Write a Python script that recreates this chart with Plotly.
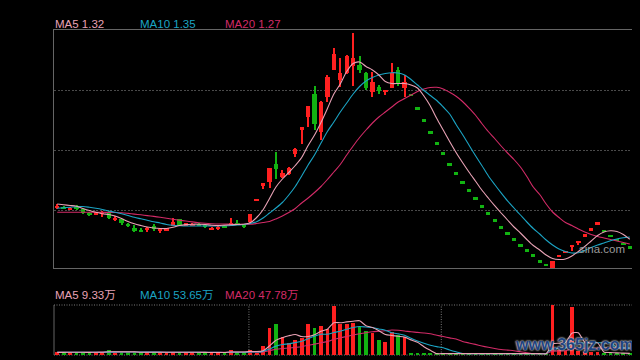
import plotly.graph_objects as go

# ---------------- data ----------------
days = list(range(90))

open_ = [1.650, 1.650, 1.633, 1.653, 1.627, 1.593, 1.584, 1.590, 1.597, 1.527,
         1.533, 1.472, 1.443, 1.415, 1.420, 1.463, 1.413, 1.413, 1.463, 1.527,
         1.474, 1.475, 1.480, 1.470, 1.434, 1.444, 1.454, 1.460, 1.487, 1.466,
         1.497, 1.720, 1.877, 1.903, 2.077, 1.953, 1.980, 2.180, 2.437, 2.553,
         2.780, 2.403, 2.750, 3.020, 2.920, 2.987, 3.060, 3.070, 2.987, 2.803,
         2.853, 2.803, 2.843, 3.020, 2.843, 2.770, 2.637, 2.517, 2.397, 2.287,
         2.187, 2.077, 1.987, 1.897, 1.817, 1.737, 1.657, 1.587, 1.517, 1.447,
         1.387, 1.327, 1.267, 1.217, 1.167, 1.107, 1.070, 1.035, 1.160, 1.200,
         1.260, 1.303, 1.367, 1.427, 1.487, 1.413, 1.360, 1.320, 1.285, 1.247]
high = [1.680, 1.660, 1.655, 1.670, 1.630, 1.600, 1.605, 1.613, 1.610, 1.565,
        1.535, 1.493, 1.470, 1.445, 1.450, 1.485, 1.445, 1.445, 1.537, 1.530,
        1.495, 1.490, 1.490, 1.477, 1.455, 1.465, 1.470, 1.537, 1.520, 1.475,
        1.585, 1.720, 1.877, 2.045, 2.203, 2.017, 2.053, 2.237, 2.437, 2.665,
        2.860, 2.710, 2.970, 3.237, 3.140, 3.170, 3.390, 3.160, 3.003, 3.003,
        2.870, 2.820, 3.087, 3.053, 2.970, 2.770, 2.637, 2.517, 2.397, 2.287,
        2.187, 2.077, 1.987, 1.897, 1.817, 1.737, 1.657, 1.587, 1.517, 1.447,
        1.387, 1.327, 1.267, 1.217, 1.167, 1.107, 1.070, 1.110, 1.160, 1.200,
        1.260, 1.303, 1.367, 1.427, 1.487, 1.413, 1.360, 1.320, 1.285, 1.247]
low = [1.630, 1.630, 1.620, 1.625, 1.580, 1.560, 1.570, 1.547, 1.535, 1.515,
       1.475, 1.447, 1.400, 1.410, 1.400, 1.415, 1.387, 1.410, 1.460, 1.465,
       1.465, 1.465, 1.465, 1.445, 1.420, 1.425, 1.445, 1.457, 1.475, 1.437,
       1.493, 1.720, 1.830, 1.837, 1.930, 1.943, 1.970, 2.147, 2.277, 2.447,
       2.420, 2.320, 2.703, 3.020, 2.853, 2.980, 2.860, 2.987, 2.820, 2.753,
       2.780, 2.770, 2.843, 2.860, 2.753, 2.770, 2.637, 2.517, 2.397, 2.287,
       2.187, 2.077, 1.987, 1.897, 1.817, 1.737, 1.657, 1.587, 1.517, 1.447,
       1.387, 1.327, 1.267, 1.217, 1.167, 1.107, 1.070, 1.035, 1.160, 1.200,
       1.213, 1.270, 1.367, 1.427, 1.487, 1.413, 1.360, 1.320, 1.285, 1.247]
close = [1.655, 1.640, 1.640, 1.627, 1.587, 1.573, 1.590, 1.595, 1.537, 1.537,
         1.493, 1.468, 1.410, 1.411, 1.443, 1.427, 1.433, 1.437, 1.503, 1.470,
         1.480, 1.478, 1.472, 1.447, 1.438, 1.449, 1.451, 1.487, 1.477, 1.461,
         1.580, 1.720, 1.877, 2.043, 2.030, 1.987, 2.037, 2.230, 2.437, 2.660,
         2.483, 2.697, 2.950, 3.180, 2.987, 3.160, 3.140, 3.020, 2.837, 2.903,
         2.813, 2.820, 2.987, 2.887, 2.897, 2.770, 2.637, 2.517, 2.397, 2.287,
         2.187, 2.077, 1.987, 1.897, 1.817, 1.737, 1.657, 1.587, 1.517, 1.447,
         1.387, 1.327, 1.267, 1.217, 1.167, 1.107, 1.070, 1.110, 1.160, 1.200,
         1.260, 1.303, 1.367, 1.427, 1.487, 1.413, 1.360, 1.320, 1.285, 1.247]

ma5 = [1.680, 1.672, 1.665, 1.657, 1.635, 1.615, 1.598, 1.582, 1.575, 1.560,
       1.535, 1.505, 1.482, 1.465, 1.450, 1.440, 1.435, 1.435, 1.447, 1.465,
       1.474, 1.478, 1.478, 1.475, 1.468, 1.465, 1.468, 1.472, 1.475, 1.477,
       1.492, 1.545, 1.623, 1.735, 1.850, 1.930, 1.995, 2.065, 2.145, 2.265,
       2.370, 2.495, 2.635, 2.780, 2.880, 3.005, 3.085, 3.100, 3.055, 3.020,
       2.970, 2.905, 2.885, 2.885, 2.885, 2.870, 2.840, 2.760, 2.660, 2.535,
       2.420, 2.305, 2.195, 2.095, 2.000, 1.910, 1.820, 1.740, 1.663, 1.590,
       1.520, 1.450, 1.390, 1.325, 1.265, 1.220, 1.170, 1.135, 1.125, 1.130,
       1.160, 1.205, 1.255, 1.310, 1.365, 1.400, 1.412, 1.405, 1.375, 1.327]
ma10 = [1.637, 1.643, 1.648, 1.653, 1.655, 1.647, 1.637, 1.625, 1.610, 1.597,
        1.582, 1.565, 1.547, 1.532, 1.517, 1.502, 1.490, 1.475, 1.467, 1.463,
        1.460, 1.460, 1.460, 1.460, 1.460, 1.460, 1.462, 1.465, 1.470, 1.475,
        1.485, 1.503, 1.540, 1.590, 1.640, 1.695, 1.770, 1.855, 1.960, 2.070,
        2.170, 2.290, 2.405, 2.500, 2.600, 2.690, 2.780, 2.855, 2.910, 2.945,
        2.970, 2.985, 2.993, 2.990, 2.970, 2.925, 2.870, 2.815, 2.765, 2.715,
        2.650, 2.580, 2.475, 2.375, 2.270, 2.165, 2.065, 1.963, 1.875, 1.791,
        1.711, 1.640, 1.570, 1.500, 1.435, 1.380, 1.320, 1.270, 1.230, 1.205,
        1.190, 1.193, 1.215, 1.245, 1.270, 1.290, 1.313, 1.330, 1.342, 1.350]
ma20 = [1.597, 1.597, 1.597, 1.597, 1.597, 1.597, 1.597, 1.597, 1.596, 1.595,
        1.592, 1.586, 1.579, 1.572, 1.564, 1.556, 1.547, 1.537, 1.527, 1.518,
        1.510, 1.501, 1.493, 1.487, 1.483, 1.480, 1.479, 1.478, 1.477, 1.477,
        1.477, 1.485, 1.495, 1.505, 1.530, 1.560, 1.595, 1.635, 1.690, 1.740,
        1.795, 1.855, 1.925, 2.000, 2.075, 2.170, 2.260, 2.345, 2.420, 2.490,
        2.550, 2.600, 2.650, 2.700, 2.735, 2.770, 2.805, 2.830, 2.845, 2.847,
        2.830, 2.797, 2.757, 2.705, 2.640, 2.570, 2.485, 2.405, 2.335, 2.260,
        2.190, 2.125, 2.050, 1.955, 1.850, 1.775, 1.680, 1.600, 1.545, 1.495,
        1.465, 1.430, 1.400, 1.375, 1.355, 1.340, 1.325, 1.310, 1.295, 1.280]

# volume, in 万
volume = [17, 17, 21, 21, 17, 17, 21, 21, 38, 17,
          21, 17, 21, 17, 21, 17, 21, 17, 21, 21,
          17, 17, 17, 17, 17, 17, 17, 38, 17, 17,
          42, 13, 71, 220, 256, 149, 94, 122, 136, 256,
          220, 239, 212, 407, 256, 256, 267, 233, 200, 178,
          122, 108, 191, 164, 144, 7, 8, 9, 7, 8,
          6, 8, 7, 9, 8, 7, 8, 6, 7, 8,
          9, 7, 8, 6, 7, 8, 7, 416, 38, 32,
          401, 27, 21, 21, 20, 10.5, 10, 9.5, 8.5, 8.15]
vma5 = [18, 18, 19, 19, 18.5, 18.5, 19.4, 19.4, 22.8, 22.8,
        23.6, 22.8, 22.8, 18.6, 19.4, 18.6, 19.4, 18.6, 19.4, 19.4,
        19.4, 18.6, 18.6, 17.8, 17, 17, 17, 21.2, 21.2, 21.2,
        26.2, 25.4, 32, 72.6, 120.4, 141.8, 158, 168, 151, 151,
        166, 195, 213, 267, 267, 274, 280, 284, 242, 227,
        200, 168, 160, 153, 146, 123, 103, 66, 35, 7.8,
        7.6, 7.6, 7.8, 7.8, 7.6, 7.8, 7.8, 7.4, 7.4, 7.6,
        7.8, 7.6, 7.8, 7.6, 7.4, 7.4, 7.2, 89, 95, 100,
        179, 182.7, 103.7, 100.4, 98, 19.9, 16.5, 14.2, 11.7, 9.33]
vma10 = [18.5, 18.5, 19, 19, 19, 19, 19.4, 19.4, 20.5, 20.5,
         20.9, 20.9, 20.9, 20.5, 20.5, 20.5, 20.5, 18.8, 19.2, 19.6,
         19.2, 18.8, 18.4, 18.4, 18, 18, 17.6, 19.7, 19.3, 19.3,
         21.4, 21, 26.5, 46.8, 70.7, 83.9, 89.5, 100, 112, 133.4,
         154, 170.9, 170, 185, 196, 212, 226.6, 236, 230.7, 226.5,
         214.8, 204.4, 182.8, 173.6, 162.4, 136.5, 114, 94.9, 77.9, 66.6,
         56.6, 38.4, 22.8, 9.2, 7.6, 7.6, 7.6, 7.6, 7.6, 7.6,
         7.6, 7.6, 7.6, 7.6, 7.6, 7.5, 7.5, 49, 52, 54.5,
         93.7, 95.6, 96.8, 98.1, 99.2, 99.5, 99.6, 59, 56, 53.65]
vma20 = [19.5, 19.5, 19.6, 19.6, 19.6, 19.7, 19.7, 19.8, 19.8, 19.8,
         19.9, 19.9, 19.9, 19.8, 19.8, 19.8, 19.8, 19.7, 19.7, 19.6,
         19.6, 19.6, 19.5, 19.5, 19.5, 19.4, 19.4, 19.8, 19.8, 19.9,
         20.2, 20, 22.5, 32.6, 44.4, 51, 54.6, 59.9, 65.7, 77.4,
         87.6, 98.7, 108.4, 127.9, 139.9, 151.9, 164.4, 174.1, 183.3, 191.4,
         195.4, 200.1, 206.1, 203.3, 197.7, 190.7, 186.4, 180.7, 174.3, 162,
         151.4, 139.8, 129.7, 109.7, 97.4, 85, 72, 60.8, 51.2, 42.8,
         37.1, 32.1, 23, 15.2, 7.6, 7.6, 7.6, 28.4, 30, 31.2,
         50.8, 51.8, 52.4, 53, 53.6, 53.7, 53.8, 53.9, 53.9, 53.9]

price_labels = ["MA5 1.32", "MA10 1.35", "MA20 1.27"]
volume_labels = ["MA5 9.33万", "MA10 53.65万", "MA20 47.78万"]
month_marks = [29.8, 59.7]

# ---------------- styling ----------------
RED = "#ff2020"
GREEN = "#12b312"
C5 = "#e8a2b5"
C10 = "#1ba4c4"
C20 = "#d22b67"
BORDER = "#656565"
FONT = "Liberation Sans, Arial, Noto Sans CJK SC, sans-serif"

colors = []
for i, (o, c) in enumerate(zip(open_, close)):
    if c > o:
        colors.append(RED)
    elif c < o:
        colors.append(GREEN)
    else:
        colors.append(RED if i == 0 or c >= close[i - 1] else GREEN)

MIN_H = 0.017
body_base, body_len = [], []
for o, c in zip(open_, close):
    lo, hi = min(o, c), max(o, c)
    if hi - lo < MIN_H:
        mid = (o + c) / 2
        lo, hi = mid - MIN_H / 2, mid + MIN_H / 2
    body_base.append(lo)
    body_len.append(hi - lo)
wick_len = [h - l for h, l in zip(high, low)]

fig = go.Figure()
fig.add_trace(go.Bar(x=days, y=wick_len, base=low, width=0.16,
                     marker=dict(color=colors, line=dict(width=0)),
                     xaxis="x", yaxis="y", hoverinfo="skip"))
fig.add_trace(go.Bar(x=days, y=body_len, base=body_base, width=0.68,
                     marker=dict(color=colors, line=dict(width=0)),
                     xaxis="x", yaxis="y", hoverinfo="skip"))
for vals, col in ((ma20, C20), (ma10, C10), (ma5, C5)):
    fig.add_trace(go.Scatter(x=days, y=vals, mode="lines",
                             line=dict(color=col, width=1.1, shape="spline", smoothing=0.8),
                             xaxis="x", yaxis="y", hoverinfo="skip"))

fig.add_trace(go.Bar(x=days, y=volume, width=0.58,
                     marker=dict(color=colors, line=dict(width=0)),
                     xaxis="x2", yaxis="y2", hoverinfo="skip"))
for vals, col in ((vma20, C20), (vma10, C10), (vma5, C5)):
    fig.add_trace(go.Scatter(x=days, y=vals, mode="lines",
                             line=dict(color=col, width=1.1, shape="spline", smoothing=0.6),
                             xaxis="x2", yaxis="y2", hoverinfo="skip"))

# The page places the figure 8px in from the top-left corner (default body margin),
# so the figure is 632x352 and plot area lands at page x 54..633, y 30..355.
FIG_W, FIG_H = 632, 352
M_L, M_R, M_T, M_B = 46, 7, 22, 5
PLOT_W = FIG_W - M_L - M_R      # 579
PLOT_H = FIG_H - M_T - M_B      # 325
OFF = 8


def px_x(page_x):
    return (page_x - OFF - M_L) / PLOT_W


def px_y(page_y):
    return (FIG_H - M_B - (page_y - OFF)) / PLOT_H


MAIN_DOM = [0.2677, 1.0]
VOL_DOM = [0.0, 0.1538]

shapes = []
shapes.append(dict(type="line", xref="paper", yref="paper", x0=0, x1=0, y0=VOL_DOM[0], y1=VOL_DOM[1],
                   line=dict(color=BORDER, width=1), layer="below"))
for (x0, x1, y0, y1) in ((0, 1, VOL_DOM[1], VOL_DOM[1]), (1, 1, VOL_DOM[0], VOL_DOM[1]),
                         (0, 1, VOL_DOM[0], VOL_DOM[0])):
    shapes.append(dict(type="line", xref="paper", yref="paper", x0=x0, x1=x1, y0=y0, y1=y1,
                       line=dict(color="#7a7a7a", width=1, dash="1px,1.5px"), layer="below"))
for m in month_marks:
    shapes.append(dict(type="line", xref="x2", yref="paper", x0=m, x1=m, y0=VOL_DOM[0], y1=VOL_DOM[1],
                       line=dict(color="#7a7a7a", width=1, dash="1px,1.5px"), layer="below"))

annotations = []
label_x = [53, 138, 223]
label_cols = [C5, C10, C20]
for txt, px, col in zip(price_labels, label_x, label_cols):
    annotations.append(dict(text=txt, x=px_x(px), y=px_y(24), xref="paper", yref="paper",
                            xanchor="left", yanchor="middle", showarrow=False,
                            font=dict(family=FONT, size=11.5, color=col)))
for txt, px, col in zip(volume_labels, label_x, label_cols):
    annotations.append(dict(text=txt, x=px_x(px), y=px_y(295), xref="paper", yref="paper",
                            xanchor="left", yanchor="middle", showarrow=False,
                            font=dict(family=FONT, size=11.5, color=col)))
annotations.append(dict(text="sina.com", x=px_x(602), y=px_y(249), xref="paper", yref="paper",
                        xanchor="center", yanchor="middle", showarrow=False,
                        font=dict(family=FONT, size=11.5, color="#9a9a9a")))
annotations.append(dict(text="<b>www.365jz.com</b>", x=px_x(574), y=px_y(344),
                        xref="paper", yref="paper", xanchor="center", yanchor="middle", showarrow=False,
                        font=dict(family=FONT, size=16, color="#1f437f",
                                  shadow="0 0 2px #d8d8d8, 0 0 2px #d8d8d8")))

fig.update_layout(
    width=FIG_W, height=FIG_H, autosize=False,
    margin=dict(l=M_L, r=M_R, t=M_T, b=M_B, pad=0),
    paper_bgcolor="#000000", plot_bgcolor="#000000",
    showlegend=False, barmode="overlay", bargap=0,
    xaxis=dict(domain=[0, 1], anchor="y", range=[-0.5, 89.5], showgrid=False, zeroline=False,
               showticklabels=False, ticks="", showline=True, mirror=True,
               linecolor=BORDER, linewidth=1),
    yaxis=dict(domain=MAIN_DOM, anchor="x", range=[1.04, 3.42], zeroline=False,
               showticklabels=False, ticks="", showline=True, mirror=True,
               linecolor=BORDER, linewidth=1,
               tickvals=[1.62, 2.22, 2.82], showgrid=True, gridcolor="#4a4a4a",
               griddash="2px,1.5px", gridwidth=1),
    xaxis2=dict(domain=[0, 1], anchor="y2", range=[-0.5, 89.5], showgrid=False, zeroline=False,
                showticklabels=False, ticks="", showline=False),
    yaxis2=dict(domain=VOL_DOM, anchor="x2", range=[-4, 416], showgrid=False, zeroline=False,
                showticklabels=False, ticks="", showline=False),
    shapes=shapes, annotations=annotations,
)

fig.write_html("out.html", config={"displayModeBar": False},
               post_script="document.body.style.backgroundColor='#000000';"
                           "document.documentElement.style.backgroundColor='#000000';")
